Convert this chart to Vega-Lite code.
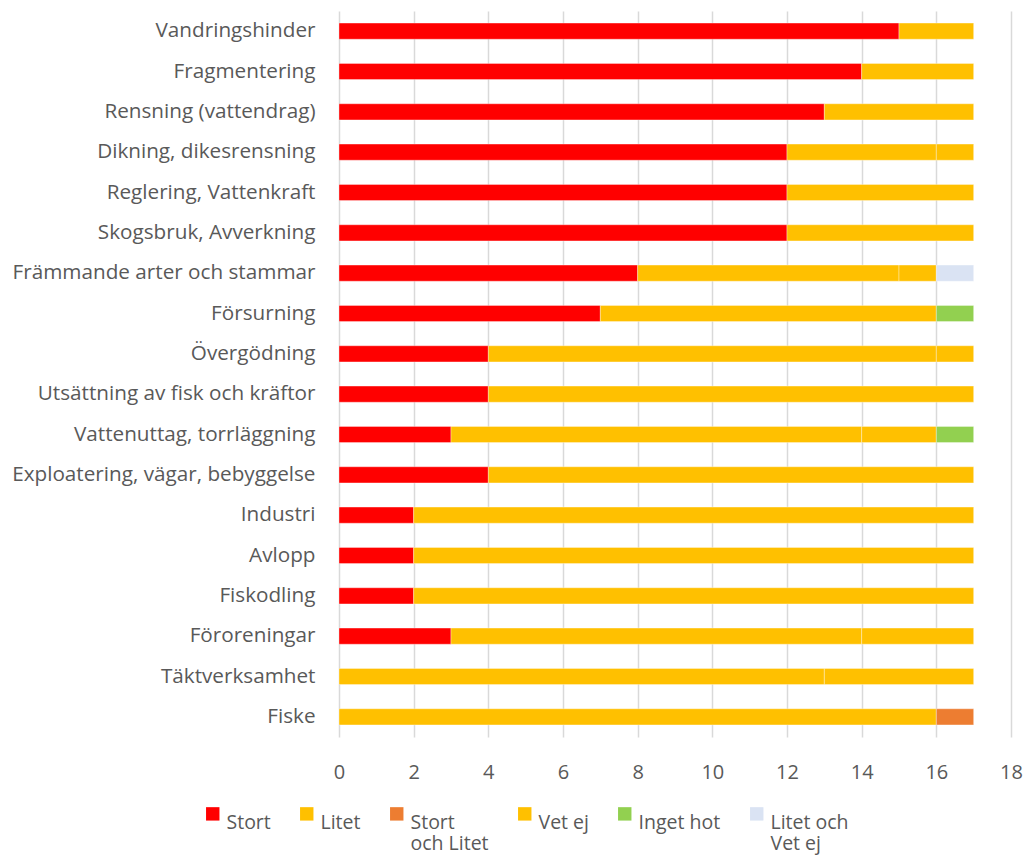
{
  "$schema": "https://vega.github.io/schema/vega-lite/v6.json",
  "width": 672,
  "height": 726,
  "autosize": "none",
  "padding": {"left": 339, "top": 11, "right": 14, "bottom": 124},
  "background": "white",
  "config": {"view": {"stroke": null}, "font": "Open Sans"},
  "data": {"values": [
    {"cat": "Vandringshinder", "typ": "Stort", "o": 1, "n": 15},
    {"cat": "Vandringshinder", "typ": "Litet", "o": 2, "n": 2},
    {"cat": "Fragmentering", "typ": "Stort", "o": 1, "n": 14},
    {"cat": "Fragmentering", "typ": "Litet", "o": 2, "n": 3},
    {"cat": "Rensning (vattendrag)", "typ": "Stort", "o": 1, "n": 13},
    {"cat": "Rensning (vattendrag)", "typ": "Litet", "o": 2, "n": 4},
    {"cat": "Dikning, dikesrensning", "typ": "Stort", "o": 1, "n": 12},
    {"cat": "Dikning, dikesrensning", "typ": "Litet", "o": 2, "n": 4},
    {"cat": "Dikning, dikesrensning", "typ": "Vet ej", "o": 4, "n": 1},
    {"cat": "Reglering, Vattenkraft", "typ": "Stort", "o": 1, "n": 12},
    {"cat": "Reglering, Vattenkraft", "typ": "Litet", "o": 2, "n": 5},
    {"cat": "Skogsbruk, Avverkning", "typ": "Stort", "o": 1, "n": 12},
    {"cat": "Skogsbruk, Avverkning", "typ": "Litet", "o": 2, "n": 5},
    {"cat": "Främmande arter och stammar", "typ": "Stort", "o": 1, "n": 8},
    {"cat": "Främmande arter och stammar", "typ": "Litet", "o": 2, "n": 7},
    {"cat": "Främmande arter och stammar", "typ": "Vet ej", "o": 4, "n": 1},
    {"cat": "Främmande arter och stammar", "typ": "Litet och Vet ej", "o": 6, "n": 1},
    {"cat": "Försurning", "typ": "Stort", "o": 1, "n": 7},
    {"cat": "Försurning", "typ": "Litet", "o": 2, "n": 9},
    {"cat": "Försurning", "typ": "Inget hot", "o": 5, "n": 1},
    {"cat": "Övergödning", "typ": "Stort", "o": 1, "n": 4},
    {"cat": "Övergödning", "typ": "Litet", "o": 2, "n": 12},
    {"cat": "Övergödning", "typ": "Vet ej", "o": 4, "n": 1},
    {"cat": "Utsättning av fisk och kräftor", "typ": "Stort", "o": 1, "n": 4},
    {"cat": "Utsättning av fisk och kräftor", "typ": "Litet", "o": 2, "n": 13},
    {"cat": "Vattenuttag, torrläggning", "typ": "Stort", "o": 1, "n": 3},
    {"cat": "Vattenuttag, torrläggning", "typ": "Litet", "o": 2, "n": 11},
    {"cat": "Vattenuttag, torrläggning", "typ": "Vet ej", "o": 4, "n": 2},
    {"cat": "Vattenuttag, torrläggning", "typ": "Inget hot", "o": 5, "n": 1},
    {"cat": "Exploatering, vägar, bebyggelse", "typ": "Stort", "o": 1, "n": 4},
    {"cat": "Exploatering, vägar, bebyggelse", "typ": "Litet", "o": 2, "n": 13},
    {"cat": "Industri", "typ": "Stort", "o": 1, "n": 2},
    {"cat": "Industri", "typ": "Litet", "o": 2, "n": 15},
    {"cat": "Avlopp", "typ": "Stort", "o": 1, "n": 2},
    {"cat": "Avlopp", "typ": "Litet", "o": 2, "n": 15},
    {"cat": "Fiskodling", "typ": "Stort", "o": 1, "n": 2},
    {"cat": "Fiskodling", "typ": "Litet", "o": 2, "n": 15},
    {"cat": "Föroreningar", "typ": "Stort", "o": 1, "n": 3},
    {"cat": "Föroreningar", "typ": "Litet", "o": 2, "n": 11},
    {"cat": "Föroreningar", "typ": "Vet ej", "o": 4, "n": 3},
    {"cat": "Täktverksamhet", "typ": "Litet", "o": 2, "n": 13},
    {"cat": "Täktverksamhet", "typ": "Vet ej", "o": 4, "n": 4},
    {"cat": "Fiske", "typ": "Litet", "o": 2, "n": 16},
    {"cat": "Fiske", "typ": "Stort och Litet", "o": 3, "n": 1}
  ]},
  "mark": {"type": "bar", "stroke": "#ffffff", "strokeWidth": 0.7, "strokeOpacity": 0.5},
  "encoding": {
    "y": {
      "field": "cat", "type": "nominal", "sort": null, "title": null,
      "scale": {"paddingInner": 0.6, "paddingOuter": 0.3},
      "axis": {"domain": false, "ticks": false, "labelFontSize": 20.7, "labelColor": "#595959", "labelPadding": 24, "labelLimit": 400, "labelFont": "Open Sans"}
    },
    "x": {
      "field": "n", "type": "quantitative", "stack": "zero", "title": null,
      "scale": {"domain": [0, 18], "nice": false},
      "axis": {"values": [0, 2, 4, 6, 8, 10, 12, 14, 16, 18], "domain": false, "ticks": false, "grid": true, "gridColor": "#d9d9d9", "gridWidth": 1.5, "labelFontSize": 20, "labelColor": "#595959", "labelPadding": 25, "labelFont": "Open Sans", "labelFlush": false}
    },
    "color": {
      "field": "typ", "type": "nominal", "title": null,
      "scale": {
        "domain": ["Stort", "Litet", "Stort och Litet", "Vet ej", "Inget hot", "Litet och Vet ej"],
        "range": ["#ff0000", "#ffc000", "#ed7d31", "#ffc000", "#92d050", "#dae3f3"]
      },
      "legend": {
        "orient": "none", "legendX": -136, "legendY": 793, "direction": "horizontal",
        "symbolType": "square", "symbolSize": 180, "symbolStrokeWidth": 0,
        "labelFontSize": 19.5, "labelColor": "#595959", "labelFont": "Open Sans",
        "labelBaseline": "top", "columnPadding": 26, "labelOffset": 4,
        "labelExpr": "datum.label == 'Stort och Litet' ? ['Stort', 'och Litet'] : datum.label == 'Litet och Vet ej' ? ['Litet och', 'Vet ej'] : [datum.label, '']",
        "encode": {"labels": {"enter": {"lineHeight": {"value": 27}}, "update": {"dy": {"value": -10}, "lineHeight": {"value": 27}}}}
      }
    },
    "order": {"field": "o", "type": "quantitative"}
  }
}
